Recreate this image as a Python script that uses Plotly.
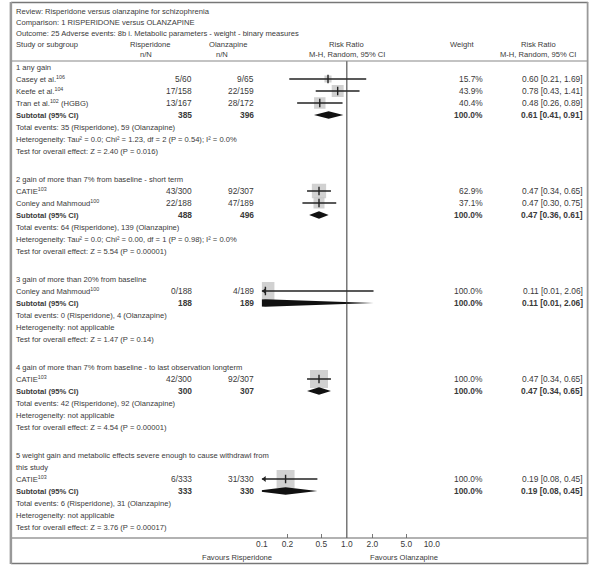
import math
import plotly.graph_objects as go

W, H = 600, 567

# ---------------- data ----------------
header_lines = [
    "Review: Risperidone versus olanzapine for schizophrenia",
    "Comparison: 1 RISPERIDONE versus OLANZAPINE",
    "Outcome: 25 Adverse events: 8b i. Metabolic parameters - weight - binary measures",
]
group_titles = [
    ["1 any gain"],
    ["2 gain of more than 7% from baseline - short term"],
    ["3 gain of more than 20% from baseline"],
    ["4 gain of more than 7% from baseline - to last observation longterm"],
    ["5 weight gain and metabolic effects severe enough to cause withdrawl from", "this study"],
]
study_group = [0, 0, 0, 1, 1, 2, 3, 4]
study_names = ["Casey et al.", "Keefe et al.", "Tran et al.", "CATIE", "Conley and Mahmoud",
               "Conley and Mahmoud", "CATIE", "CATIE"]
study_refs = ["106", "104", "102", "103", "100", "100", "103", "103"]
study_suffix = ["", "", " (HGBG)", "", "", "", "", ""]
ris_events = [5, 17, 13, 43, 22, 0, 42, 6]
ris_total = [60, 158, 167, 300, 188, 188, 300, 333]
ola_events = [9, 22, 28, 92, 47, 4, 92, 31]
ola_total = [65, 159, 172, 307, 189, 189, 307, 330]
weights = [15.7, 43.9, 40.4, 62.9, 37.1, 100.0, 100.0, 100.0]
rr = [0.60, 0.78, 0.48, 0.47, 0.47, 0.11, 0.47, 0.19]
rr_lo = [0.21, 0.43, 0.26, 0.34, 0.30, 0.01, 0.34, 0.08]
rr_hi = [1.69, 1.41, 0.89, 0.65, 0.75, 2.06, 0.65, 0.45]

sub_ris_total = [385, 488, 188, 300, 333]
sub_ola_total = [396, 496, 189, 307, 330]
sub_ris_events = [35, 64, 0, 42, 6]
sub_ola_events = [59, 139, 4, 92, 31]
sub_weight = [100.0, 100.0, 100.0, 100.0, 100.0]
sub_rr = [0.61, 0.47, 0.11, 0.47, 0.19]
sub_lo = [0.41, 0.36, 0.01, 0.34, 0.08]
sub_hi = [0.91, 0.61, 2.06, 0.65, 0.45]
heterogeneity = [
    "Tau² = 0.0; Chi² = 1.23, df = 2 (P = 0.54); I² = 0.0%",
    "Tau² = 0.0; Chi² = 0.00, df = 1 (P = 0.98); I² = 0.0%",
    "not applicable",
    "not applicable",
    "not applicable",
]
z_values = ["2.40", "5.54", "1.47", "4.54", "3.76"]
p_values = ["0.016", "0.00001", "0.14", "0.00001", "0.00017"]

tick_vals = [0.1, 0.2, 0.5, 1.0, 2.0, 5.0, 10.0]
tick_text = ["0.1", "0.2", "0.5", "1.0", "2.0", "5.0", "10.0"]
favours = ["Favours Risperidone", "Favours Olanzapine"]

# ---------------- layout geometry ----------------
FONT = "Liberation Sans Narrow, Arial Narrow, sans-serif"
FS = 7.6      # prose text
FN = 8.4      # numeric columns
TXT = "#3a3a3a"
X_LEFT = 8
X_RIS = 192
X_OLA = 256
X_W = 490
X_RR = 593
PLOT_L, PLOT_R = 262, 436
LOGMIN, LOGMAX = -1.0, 1.0
STEP = 12
GAP = 28
Y0 = 67

annotations = []


def txt(x, y, s, anchor="left", bold=False, size=FS):
    if bold:
        s = "<b>" + s + "</b>"
    annotations.append(dict(x=x / W, y=y, xref="paper", yref="y", text=s, showarrow=False,
                            xanchor=anchor, yanchor="middle",
                            font=dict(family=FONT, size=size, color=TXT)))


# header
for i, s in enumerate(header_lines):
    txt(X_LEFT, 11 + i * 11, s)
txt(X_LEFT, 44, "Study or subgroup")
txt(148, 44, "Risperidone", "center")
txt(143, 54, "n/N", "center")
txt(227, 44, "Olanzapine", "center")
txt(221, 54, "n/N", "center")
txt(349, 44, "Risk Ratio", "center")
txt(349, 54, "M-H, Random, 95% CI", "center")
txt(467, 44, "Weight", "center")
txt(545, 44, "Risk Ratio", "center")
txt(545, 54, "M-H, Random, 95% CI", "center")

study_y = []
sub_y = []
y = Y0
for g in range(len(group_titles)):
    for line in group_titles[g]:
        txt(X_LEFT, y, line)
        y += STEP
    for i in range(len(study_group)):
        if study_group[i] != g:
            continue
        study_y.append(y)
        txt(X_LEFT, y, f"{study_names[i]}<sup>{study_refs[i]}</sup>{study_suffix[i]}")
        txt(X_RIS, y, f"{ris_events[i]}/{ris_total[i]}", "right", size=FN)
        txt(X_OLA, y, f"{ola_events[i]}/{ola_total[i]}", "right", size=FN)
        txt(X_W, y, f"{weights[i]:.1f}%", "right", size=FN)
        txt(X_RR, y, f"{rr[i]:.2f} [{rr_lo[i]:.2f}, {rr_hi[i]:.2f}]", "right", size=FN)
        y += STEP
    sub_y.append(y)
    txt(X_LEFT, y, "Subtotal (95% CI)", bold=True)
    txt(X_RIS, y, f"{sub_ris_total[g]}", "right", bold=True, size=FN)
    txt(X_OLA, y, f"{sub_ola_total[g]}", "right", bold=True, size=FN)
    txt(X_W, y, f"{sub_weight[g]:.1f}%", "right", bold=True, size=FN)
    txt(X_RR, y, f"{sub_rr[g]:.2f} [{sub_lo[g]:.2f}, {sub_hi[g]:.2f}]", "right", bold=True, size=FN)
    y += STEP
    txt(X_LEFT, y, f"Total events: {sub_ris_events[g]} (Risperidone), {sub_ola_events[g]} (Olanzapine)")
    y += STEP
    txt(X_LEFT, y, f"Heterogeneity: {heterogeneity[g]}")
    y += STEP
    txt(X_LEFT, y, f"Test for overall effect: Z = {z_values[g]} (P = {p_values[g]})")
    y += GAP

AXIS_Y = 538
txt(237, 557, favours[0], "center")
txt(408, 557, favours[1], "center")

fig = go.Figure()

# boxes
fig.add_trace(go.Scatter(
    x=rr, y=study_y, mode="markers", hoverinfo="skip",
    marker=dict(symbol="square", color="#bdbdbd",
                size=[18 * math.sqrt(w / 100.0) for w in weights], line=dict(width=0))))

# CI lines
xs, ys = [], []
for i in range(len(rr)):
    xs += [rr_lo[i], rr_hi[i], None]
    ys += [study_y[i], study_y[i], None]
fig.add_trace(go.Scatter(x=xs, y=ys, mode="lines", hoverinfo="skip",
                         line=dict(color="#222222", width=1.3)))

# clipped-CI arrows
ax_x, ax_y = [], []
for i in range(len(rr)):
    if math.log10(rr_lo[i]) < LOGMIN:
        ax_x.append(10 ** (LOGMIN + 0.03))
        ax_y.append(study_y[i])
fig.add_trace(go.Scatter(x=ax_x, y=ax_y, mode="markers", hoverinfo="skip",
                         marker=dict(symbol="triangle-left", size=5, color="#222222")))

# point estimate ticks
fig.add_trace(go.Scatter(x=rr, y=study_y, mode="markers", hoverinfo="skip",
                         marker=dict(symbol="line-ns", size=6,
                                     line=dict(color="#222222", width=1.4))))

# diamonds
for g in range(len(sub_rr)):
    h = 3.8
    fig.add_trace(go.Scatter(
        x=[sub_lo[g], sub_rr[g], sub_hi[g], sub_rr[g], sub_lo[g]],
        y=[sub_y[g], sub_y[g] - h, sub_y[g], sub_y[g] + h, sub_y[g]],
        mode="lines", fill="toself", fillcolor="#111111",
        line=dict(width=0, color="#111111"), hoverinfo="skip"))

# reference line at RR = 1
fig.add_trace(go.Scatter(x=[1, 1], y=[61, AXIS_Y], mode="lines", hoverinfo="skip",
                         line=dict(color="#333333", width=1)))

shapes = []


def hline(yv, x0, x1, color, width):
    shapes.append(dict(type="line", xref="paper", yref="y", x0=x0 / W, x1=x1 / W,
                       y0=yv, y1=yv, line=dict(color=color, width=width)))


def vline(xv, y0, y1, color, width):
    shapes.append(dict(type="line", xref="paper", yref="y", x0=xv / W, x1=xv / W,
                       y0=y0, y1=y1, line=dict(color=color, width=width)))


hline(2.5, 5, 596, "#777777", 1.5)
hline(61, 5, 596, "#888888", 1.2)
hline(AXIS_Y, 5, 596, "#666666", 1.2)
hline(563.5, 5, 596, "#777777", 1.5)
vline(5, 2, 564, "#999999", 2.5)
vline(595.5, 2, 564, "#999999", 1.8)

fig.update_layout(
    width=W, height=H, margin=dict(l=0, r=0, t=0, b=0),
    paper_bgcolor="white", plot_bgcolor="rgba(0,0,0,0)",
    showlegend=False, annotations=annotations, shapes=shapes,
    xaxis=dict(type="log", range=[LOGMIN, LOGMAX], domain=[PLOT_L / W, PLOT_R / W],
               anchor="free", position=1 - AXIS_Y / H,
               tickvals=tick_vals, ticktext=tick_text, ticks="inside", ticklen=4,
               tickcolor="#777777", tickwidth=1, showline=False, showgrid=False,
               zeroline=False, tickfont=dict(family=FONT, size=FN, color=TXT)),
    yaxis=dict(range=[H, 0], domain=[0, 1], visible=False, showgrid=False, zeroline=False),
)

fig.write_html("out.html", config={"displayModeBar": False},
               post_script="document.body.style.margin='0';document.body.style.padding='0';")
